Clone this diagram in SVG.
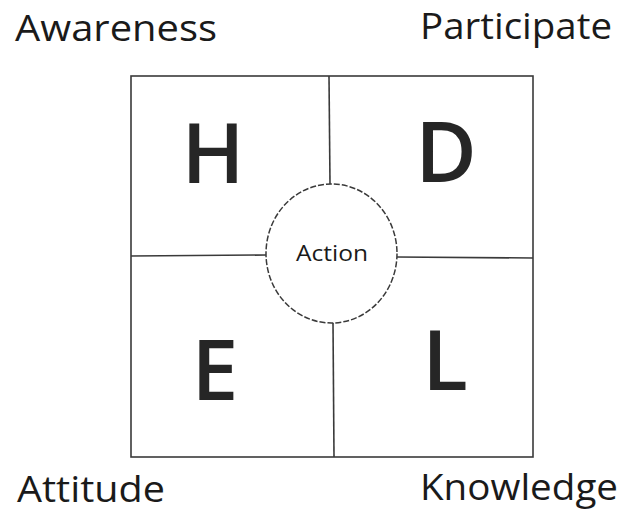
<svg xmlns="http://www.w3.org/2000/svg" width="624" height="513" viewBox="0 0 624 513">
<style>
.lbl{font-family:"Open Sans","Noto Sans","Liberation Sans",sans-serif;font-size:36px;font-weight:500;fill:#1a1a1a}
.big{font-family:"Open Sans","Noto Sans","Liberation Sans",sans-serif;font-size:84px;font-weight:600;fill:#262626;text-anchor:middle}
.ln{stroke:#3a3a3a;stroke-width:1.6;fill:none}
</style>
<rect width="624" height="513" fill="#ffffff"/>
<g id="frame"><rect class="ln" x="131" y="76" width="402" height="381"/></g>
<g id="connectors">
<line class="ln" x1="329" y1="76" x2="330" y2="184"/>
<line class="ln" x1="333" y1="323" x2="334" y2="457"/>
<line class="ln" x1="131" y1="256" x2="266" y2="255"/>
<line class="ln" x1="397" y1="257" x2="533" y2="258"/>
</g>
<g id="node-H"><text class="big" x="213" y="183">H</text></g>
<g id="node-D"><text class="big" x="446" y="182">D</text></g>
<g id="node-E"><text class="big" x="215" y="400">E</text></g>
<g id="node-L"><text class="big" x="445" y="390">L</text></g>
<g id="node-action">
<ellipse cx="331.5" cy="253.5" rx="65.5" ry="69.5" fill="#ffffff" stroke="#3a3a3a" stroke-width="1.5" stroke-dasharray="6,2"/>
<text x="332" y="261" text-anchor="middle" font-family="'Open Sans','Noto Sans','Liberation Sans',sans-serif" font-size="22" font-weight="500" fill="#1a1a1a" textLength="72" lengthAdjust="spacingAndGlyphs">Action</text>
</g>
<g id="label-awareness"><text class="lbl" x="15" y="41" textLength="202" lengthAdjust="spacingAndGlyphs">Awareness</text></g>
<g id="label-participate"><text class="lbl" x="420" y="39" textLength="192" lengthAdjust="spacingAndGlyphs">Participate</text></g>
<g id="label-attitude"><text class="lbl" x="17" y="502" textLength="148" lengthAdjust="spacingAndGlyphs">Attitude</text></g>
<g id="label-knowledge"><text class="lbl" x="420" y="500" textLength="198" lengthAdjust="spacingAndGlyphs">Knowledge</text></g>
</svg>
